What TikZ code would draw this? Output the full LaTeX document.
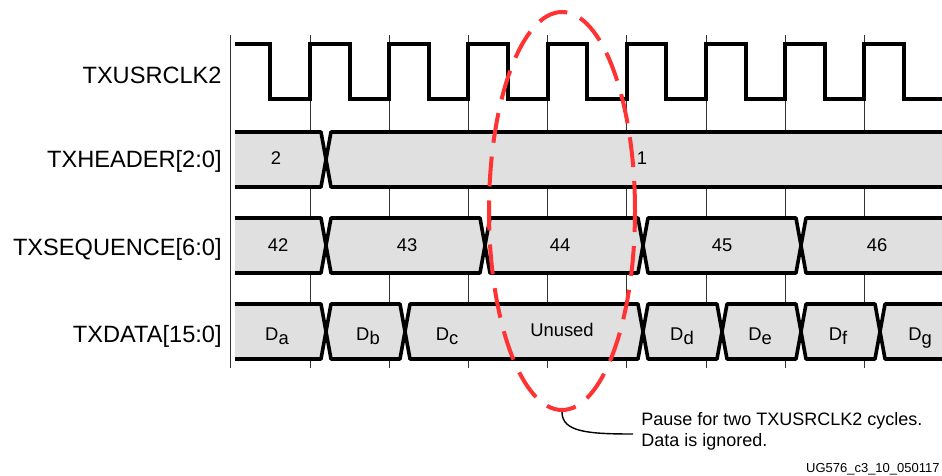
\documentclass[tikz,border=0pt]{standalone}
\usepackage{fontspec}
\setmainfont{Liberation Sans}
\usetikzlibrary{shapes.geometric}
\definecolor{busgray}{RGB}{224,224,224}
\definecolor{pausered}{RGB}{255,51,51}
\newcommand{\dsub}[1]{D\raisebox{-0.22em}{#1}}
\newcommand{\busseg}[3]{%
  \draw[bus] ({#1+5},#3) -- ({#2-5},#3) -- (#2,{#3+27.5}) -- ({#2-5},{#3+55})
    -- ({#1+5},{#3+55}) -- (#1,{#3+27.5}) -- cycle;}

\begin{document}
\begin{tikzpicture}[
    x=0.5pt, y=-0.5pt,
    grid/.style={draw=black!80, line width=0.5pt},
    clk/.style={line width=2pt, line join=miter},
    bus/.style={draw=black, fill=busgray, line width=1.8pt, line join=round},
    signame/.style={anchor=base east, inner sep=0pt, font=\fontsize{11.8}{14}\selectfont},
    busval/.style={anchor=base, font=\fontsize{9.2}{11}\selectfont},
    pausering/.style={ellipse, draw=pausered, line width=2pt, dash pattern=on 15pt off 7pt,
      inner sep=0pt, minimum width=73pt, minimum height=199pt},
    note/.style={align=left, anchor=west, inner sep=0pt, font=\fontsize{9}{10.5}\selectfont},
    callout/.style={draw=black, line width=0.7pt}
]
\useasboundingbox (0,0) rectangle (942,476);

\foreach \k in {-1,...,7}
    \draw[grid] ({310+\k*79.2},35) -- ({310+\k*79.2},368);

\draw[clk] (235,44) -| (270.4,99)
    \foreach \k in {0,...,7} { -| ({310+\k*79.2},44) -| ({349.6+\k*79.2},99) }
    -- (942,99);

\node[signame] (clk) at (222,83.5) {TXUSRCLK2};
\node[signame] (hdr) at (222,167.5) {TXHEADER[2:0]};
\node[signame] (seq) at (222,255) {TXSEQUENCE[6:0]};
\node[signame] (dat) at (222,342.5) {TXDATA[15:0]};

\begin{scope}
\clip (235,0) rectangle (942,476);
\foreach \a/\b/\tx/\txt [count=\i] in {220/326/276/2, 326/960/642/1} {
    \busseg{\a}{\b}{132}
    \node[busval] (hval\i) at (\tx,164.5) {\txt};
}
\foreach \a/\b/\tx/\txt [count=\i] in {220/326/278/42, 326/485/407/43, 485/643/560/44, 643/801/722/45, 801/960/877/46} {
    \busseg{\a}{\b}{218}
    \node[busval] (sval\i) at (\tx,251) {\txt};
}
\foreach \a/\b/\tx/\txt [count=\i] in {220/326/277/a, 326/405/368/b, 405/643/447/c, 643/722/682/d, 722/801/760/e, 801/880/838/f, 880/960/920/g} {
    \busseg{\a}{\b}{304}
    \node[busval] (dval\i) at (\tx,340.5) {\dsub{\txt}};
}
\node[busval] (unused) at (562,336.5) {Unused};
\end{scope}

\node[pausering] (pause) at (562,211) {};
\node[note] (note) at (641,431) {Pause for two TXUSRCLK2 cycles.\\Data is ignored.};
\coordinate (tip) at (633,434);
\draw[callout] (pause.south) .. controls +(0,20) and +(-45,0) .. (tip);

\node[anchor=base east, inner sep=0pt, font=\fontsize{6.5}{8}\selectfont] (figid) at (940,472) {UG576\_c3\_10\_050117};

\end{tikzpicture}
\end{document}
